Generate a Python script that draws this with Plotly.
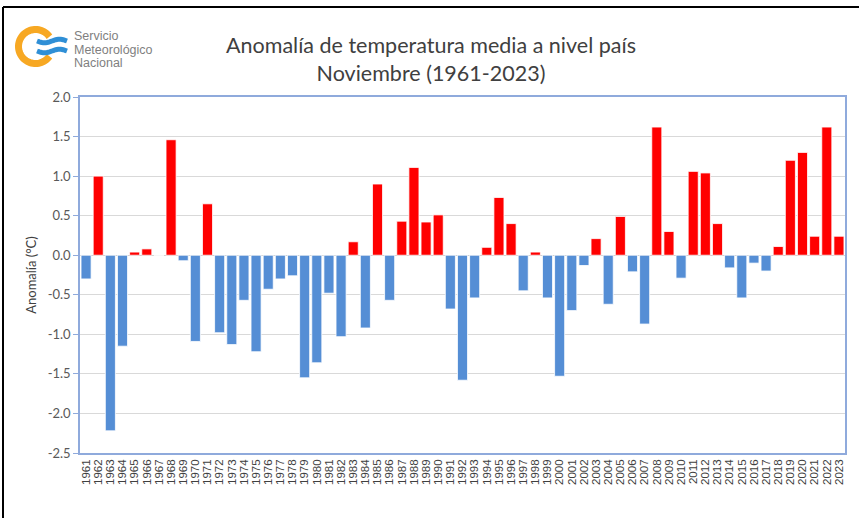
import numpy as np
import plotly.graph_objects as go

years = [str(y) for y in range(1961, 2024)]
anomalies = [
    -0.30, 1.00, -2.22, -1.15, 0.04, 0.08, 0.00, 1.46, -0.07, -1.09,
    0.65, -0.98, -1.13, -0.57, -1.22, -0.43, -0.30, -0.26, -1.55, -1.36,
    -0.48, -1.03, 0.17, -0.92, 0.90, -0.57, 0.43, 1.11, 0.42, 0.51,
    -0.68, -1.58, -0.54, 0.10, 0.73, 0.40, -0.45, 0.04, -0.54, -1.53,
    -0.70, -0.13, 0.21, -0.62, 0.49, -0.21, -0.87, 1.62, 0.30, -0.29,
    1.06, 1.04, 0.40, -0.16, -0.54, -0.10, -0.20, 0.11, 1.20, 1.30,
    0.24, 1.62, 0.24,
]
y_ticks = [2.0, 1.5, 1.0, 0.5, 0.0, -0.5, -1.0, -1.5, -2.0, -2.5]
y_ticklabels = ["2.0", "1.5", "1.0", "0.5", "0.0", "-0.5", "-1.0", "-1.5", "-2.0", "-2.5"]

W, H = 859, 518
L, R, T, B = 80, 14, 97, 65
PW, PH = W - L - R, H - T - B

RED = "#FF0000"
BLUE = "#558ED5"
colors = [RED if v >= 0 else BLUE for v in anomalies]


def px(x):
    return (x - L) / PW


def py(y):
    return (H - B - y) / PH


def path_from(points):
    s = "M " + " L ".join(f"{px(a):.5f},{py(b):.5f}" for a, b in points)
    return s


fig = go.Figure()
fig.add_trace(go.Bar(
    x=years, y=anomalies,
    marker=dict(color=colors, line=dict(color="rgba(255,255,255,0.8)", width=1)),
    hoverinfo="x+y",
))

shapes = []
# outer frame lines (top and left)
shapes.append(dict(type="line", xref="paper", yref="paper",
                   x0=px(3), x1=px(W + 5), y0=py(7), y1=py(7),
                   line=dict(color="black", width=2)))
shapes.append(dict(type="line", xref="paper", yref="paper",
                   x0=px(3), x1=px(3), y0=py(7), y1=py(H + 5),
                   line=dict(color="black", width=2)))

# logo: orange C ring
cx, cy, r = 35.5, 46.5, 17.0
ang = np.linspace(np.radians(35), np.radians(325), 60)
ring = [(cx + r * np.cos(a), cy - r * np.sin(a)) for a in ang]
shapes.append(dict(type="path", xref="paper", yref="paper", path=path_from(ring),
                   line=dict(color="#F7A823", width=7)))
# logo: blue waves
for yc in (41.0, 51.0):
    xs = np.linspace(37, 67, 25)
    pts = [(x, yc + 1.8 * np.sin((x - 37) / 30 * 2 * np.pi)) for x in xs]
    shapes.append(dict(type="path", xref="paper", yref="paper", path=path_from(pts),
                       line=dict(color="#2F8FD6", width=5)))

annotations = []
for txt, yy in (("Servicio", 36), ("Meteorológico", 50), ("Nacional", 63)):
    annotations.append(dict(text=txt, xref="paper", yref="paper", x=px(72), y=py(yy),
                            xanchor="left", yanchor="middle", showarrow=False,
                            font=dict(family="Liberation Sans, Arial", size=12.5, color="#7F7F7F")))

fig.update_layout(
    width=W, height=H,
    margin=dict(l=L, r=R, t=T, b=B, autoexpand=False),
    paper_bgcolor="white", plot_bgcolor="white",
    showlegend=False,
    bargap=0.17,
    title=dict(text="Anomalía de temperatura media a nivel país<br>Noviembre (1961-2023)",
               x=431 / W, xanchor="center", xref="container",
               y=1 - 53 / H, yanchor="middle", yref="container",
               font=dict(family="Lato, Calibri, sans-serif", size=21.5, color="#404040")),
    shapes=shapes,
    annotations=annotations,
    xaxis=dict(
        type="category", tickangle=-90, tickmode="linear", dtick=1,
        tickfont=dict(family="Liberation Sans, Arial", size=11.5, color="#404040"),
        showgrid=False, showline=True, linecolor="#8FAADC", linewidth=1.5, mirror=True,
        ticks="", fixedrange=True,
    ),
    yaxis=dict(
        range=[-2.5, 2.0], tickvals=y_ticks, ticktext=y_ticklabels,
        tickfont=dict(family="Lato, Calibri, sans-serif", size=13, color="#595959"),
        showgrid=True, gridcolor="#D9D9D9", gridwidth=1,
        zeroline=True, zerolinecolor="#D0D0D0", zerolinewidth=1,
        showline=True, linecolor="#8FAADC", linewidth=1.5, mirror=True,
        ticks="outside", ticklen=5, tickcolor="#8FAADC",
        title=dict(text="Anomalía (°C)", standoff=8,
                   font=dict(family="Lato, Calibri, sans-serif", size=13, color="#404040")),
    ),
)

fig.write_html("out.html", config={"displayModeBar": False},
               post_script="document.body.style.margin='0';document.body.style.overflow='hidden';")
